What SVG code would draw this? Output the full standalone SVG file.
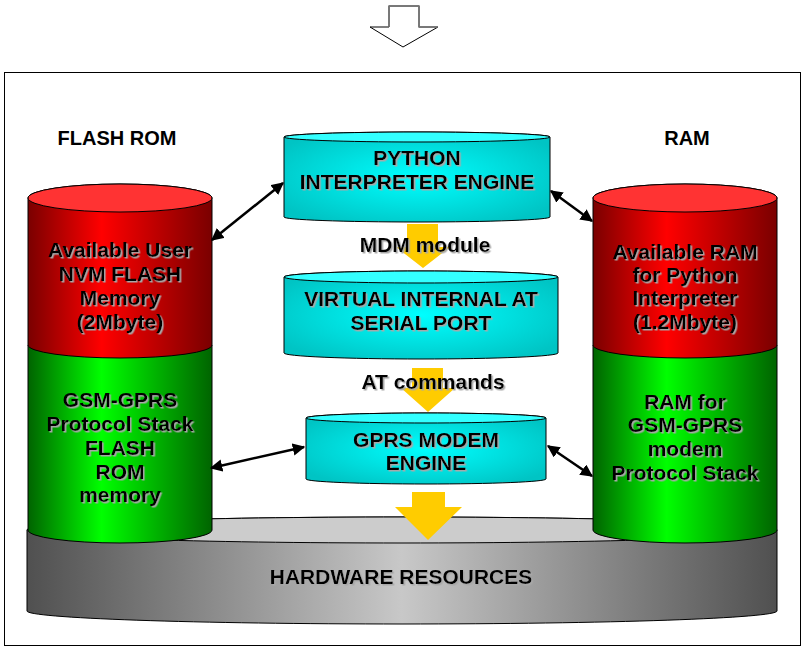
<svg xmlns="http://www.w3.org/2000/svg" width="807" height="651" viewBox="0 0 807 651">
<defs>
<linearGradient id="gRed" x1="0" y1="0" x2="1" y2="0">
<stop offset="0" stop-color="#7a0000"/><stop offset="0.4" stop-color="#ff0000"/><stop offset="1" stop-color="#7a0000"/>
</linearGradient>
<linearGradient id="gGreen" x1="0" y1="0" x2="1" y2="0">
<stop offset="0" stop-color="#006400"/><stop offset="0.4" stop-color="#00ff00"/><stop offset="1" stop-color="#006400"/>
</linearGradient>
<linearGradient id="gGray" x1="0" y1="0" x2="1" y2="0">
<stop offset="0" stop-color="#505050"/><stop offset="0.5" stop-color="#c8c8c8"/><stop offset="1" stop-color="#505050"/>
</linearGradient>
<radialGradient id="gCyan" cx="0.5" cy="0.5" r="0.6">
<stop offset="0" stop-color="#00ffff"/><stop offset="1" stop-color="#00c4c4"/>
</radialGradient>
<filter id="sh" x="-5%" y="-20%" width="110%" height="140%">
<feDropShadow dx="1.5" dy="1.5" stdDeviation="0" flood-color="#a8a8a8"/>
</filter>
<marker id="ah" viewBox="0 0 10 10" refX="9" refY="5" markerWidth="5" markerHeight="5" orient="auto-start-reverse">
<path d="M0,0 L10,5 L0,10 Z" fill="#000"/>
</marker>
<style>
.t{font-family:"Liberation Sans",Arial,sans-serif;font-weight:bold;font-size:20px;fill:#000;text-anchor:middle}
.b{font-size:21px}
.ts{filter:url(#sh)}
.cyl{stroke:#000;stroke-width:1}
.yarrow{fill:#ffcc00;stroke:none}
.conn{stroke:#000;stroke-width:2.5;fill:none;marker-start:url(#ah);marker-end:url(#ah)}
</style>
</defs>
<rect x="0" y="0" width="807" height="651" fill="#fff"/>
<g id="top-arrow">
<path d="M389,6 L419,6 L419,27 L438,27 L403,47 L370,27 L389,27 Z" fill="#fff" stroke="#000" stroke-width="1"/>
<path d="M389,27 L389,6 L419,6 L419,27 L438,27" fill="none" stroke="#777" stroke-width="1.5"/>
</g>
<rect id="frame" x="4.5" y="72.5" width="796" height="573" fill="none" stroke="#000" stroke-width="1"/>

<g id="hardware">
<path class="cyl" d="M27,530 L27,611 A375 13 0 0 0 777,611 L777,530 A375 13 0 0 0 27,530 Z" fill="url(#gGray)"/>
<ellipse class="cyl" cx="402" cy="530" rx="375" ry="13" fill="#cccccc"/>
<text class="t b ts" x="401" y="584">HARDWARE RESOURCES</text>
</g>

<g id="flash-gsm">
<path class="cyl" d="M28,345 L28,530 A92 13 0 0 0 212,530 L212,345 Z" fill="url(#gGreen)"/>
<text class="t b ts" x="120" y="407">GSM-GPRS</text>
<text class="t b ts" x="120" y="431">Protocol Stack</text>
<text class="t b ts" x="120" y="455">FLASH</text>
<text class="t b ts" x="120" y="479">ROM</text>
<text class="t b ts" x="120" y="502">memory</text>
</g>
<g id="flash-nvm">
<path class="cyl" d="M28,198 L28,345 A92 13 0 0 0 212,345 L212,198 A92 14 0 0 0 28,198 Z" fill="url(#gRed)"/>
<ellipse class="cyl" cx="120" cy="198" rx="92" ry="14" fill="#ff3333"/>
<text class="t b ts" x="120" y="257">Available User</text>
<text class="t b ts" x="120" y="281">NVM FLASH</text>
<text class="t b ts" x="120" y="305">Memory</text>
<text class="t b ts" x="120" y="329">(2Mbyte)</text>
</g>

<g id="ram-gsm">
<path class="cyl" d="M593,345 L593,530 A92 13 0 0 0 777,530 L777,345 Z" fill="url(#gGreen)"/>
<text class="t b ts" x="685" y="409">RAM for</text>
<text class="t b ts" x="685" y="432">GSM-GPRS</text>
<text class="t b ts" x="685" y="456">modem</text>
<text class="t b ts" x="685" y="480">Protocol Stack</text>
</g>
<g id="ram-python">
<path class="cyl" d="M593,198 L593,345 A92 13 0 0 0 777,345 L777,198 A92 14 0 0 0 593,198 Z" fill="url(#gRed)"/>
<ellipse class="cyl" cx="685" cy="198" rx="92" ry="14" fill="#ff3333"/>
<text class="t b ts" x="685" y="259">Available RAM</text>
<text class="t b ts" x="685" y="282">for Python</text>
<text class="t b ts" x="685" y="305">Interpreter</text>
<text class="t b ts" x="685" y="329">(1.2Mbyte)</text>
</g>

<text class="t" x="117" y="145">FLASH ROM</text>
<text class="t" x="687" y="145">RAM</text>

<g id="yellow-arrows">
<path class="yarrow" d="M407,224 L438,224 L438,247 L450,247 L423,268 L396,247 L407,247 Z"/>
<path class="yarrow" d="M412,368 L443,368 L443,388 L455,388 L428,412 L401,388 L412,388 Z"/>
<path class="yarrow" d="M412,492 L445,492 L445,507 L462,507 L428,540 L395,507 L412,507 Z"/>
</g>

<g id="python">
<path class="cyl" d="M284,137 L284,217 A133 5 0 0 0 550,217 L550,137 A133 5 0 0 0 284,137 Z" fill="url(#gCyan)"/>
<ellipse class="cyl" cx="417" cy="137" rx="133" ry="5" fill="#33ffff"/>
<text class="t b ts" x="417" y="165">PYTHON</text>
<text class="t b ts" x="417" y="189">INTERPRETER ENGINE</text>
</g>
<text class="t b ts" x="425" y="252">MDM module</text>

<g id="virtual">
<path class="cyl" d="M284,277 L284,353 A137 6 0 0 0 558,353 L558,277 A137 6 0 0 0 284,277 Z" fill="url(#gCyan)"/>
<ellipse class="cyl" cx="421" cy="277" rx="137" ry="6" fill="#33ffff"/>
<text class="t b ts" x="421" y="306">VIRTUAL INTERNAL AT</text>
<text class="t b ts" x="421" y="330">SERIAL PORT</text>
</g>
<text class="t b ts" x="433" y="389">AT commands</text>

<g id="gprs">
<path class="cyl" d="M306,418 L306,479 A120 5 0 0 0 546,479 L546,418 A120 5 0 0 0 306,418 Z" fill="url(#gCyan)"/>
<ellipse class="cyl" cx="426" cy="418" rx="120" ry="5" fill="#33ffff"/>
<text class="t b ts" x="426" y="447">GPRS MODEM</text>
<text class="t b ts" x="426" y="470">ENGINE</text>
</g>

<g id="connectors">
<line class="conn" x1="212" y1="240" x2="283" y2="183"/>
<line class="conn" x1="551" y1="191" x2="592" y2="221"/>
<line class="conn" x1="211" y1="468" x2="304" y2="447"/>
<line class="conn" x1="548" y1="446" x2="592" y2="476"/>
</g>
</svg>
